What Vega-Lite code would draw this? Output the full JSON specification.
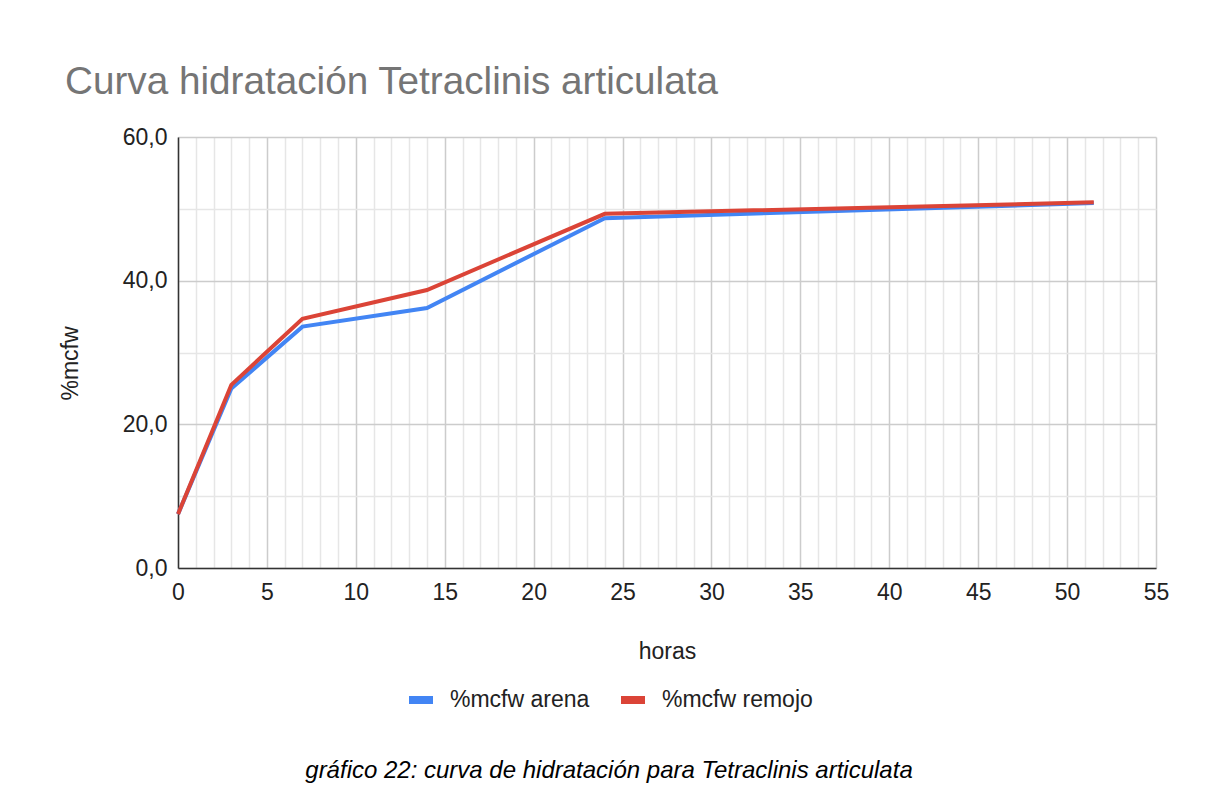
{
  "$schema": "https://vega.github.io/schema/vega-lite/v6.json",
  "autosize": {"type": "none"},
  "width": 978,
  "height": 431,
  "padding": {"left": 178, "top": 137, "right": 51, "bottom": 228},
  "background": "white",
  "title": {
    "text": "Curva hidratación Tetraclinis articulata",
    "anchor": "start",
    "frame": "group",
    "dx": -113,
    "offset": -7,
    "baseline": "alphabetic",
    "font": "Liberation Sans",
    "fontSize": 38.7,
    "fontWeight": "normal",
    "color": "#757575"
  },
  "config": {
    "view": {"stroke": null},
    "font": "Liberation Sans"
  },
  "data": {
    "values": [
      {"horas": 0, "mcfw": 7.5, "serie": "%mcfw arena"},
      {"horas": 3, "mcfw": 25.0, "serie": "%mcfw arena"},
      {"horas": 7, "mcfw": 33.6, "serie": "%mcfw arena"},
      {"horas": 14, "mcfw": 36.2, "serie": "%mcfw arena"},
      {"horas": 24, "mcfw": 48.7, "serie": "%mcfw arena"},
      {"horas": 51.5, "mcfw": 50.8, "serie": "%mcfw arena"},
      {"horas": 0, "mcfw": 7.5, "serie": "%mcfw remojo"},
      {"horas": 3, "mcfw": 25.5, "serie": "%mcfw remojo"},
      {"horas": 7, "mcfw": 34.7, "serie": "%mcfw remojo"},
      {"horas": 14, "mcfw": 38.7, "serie": "%mcfw remojo"},
      {"horas": 24, "mcfw": 49.3, "serie": "%mcfw remojo"},
      {"horas": 51.5, "mcfw": 50.9, "serie": "%mcfw remojo"}
    ]
  },
  "mark": {"type": "line", "strokeWidth": 4, "strokeJoin": "miter", "strokeCap": "butt"},
  "encoding": {
    "x": {
      "field": "horas",
      "type": "quantitative",
      "scale": {"domain": [0, 55], "nice": false, "zero": true},
      "axis": {
        "title": "horas",
        "values": [0,1,2,3,4,5,6,7,8,9,10,11,12,13,14,15,16,17,18,19,20,21,22,23,24,25,26,27,28,29,30,31,32,33,34,35,36,37,38,39,40,41,42,43,44,45,46,47,48,49,50,51,52,53,54,55],
        "labelExpr": "datum.value % 5 === 0 ? format(datum.value, 'd') : ''",
        "ticks": false,
        "labelPadding": 13,
        "labelFontSize": 23,
        "labelColor": "#222222",
        "labelFont": "Liberation Sans",
        "labelOverlap": false,
        "labelFlush": false,
        "domainColor": "#333333",
        "domainWidth": 1.5,
        "grid": true,
        "gridColor": {"condition": {"test": "datum.value % 5 === 0", "value": "#cccccc"}, "value": "#e6e6e6"},
        "gridWidth": 1.5,
        "titleFontSize": 23,
        "titleFontWeight": "normal",
        "titleColor": "#222222",
        "titleFont": "Liberation Sans",
        "titlePadding": 36
      }
    },
    "y": {
      "field": "mcfw",
      "type": "quantitative",
      "scale": {"domain": [0, 60], "nice": false},
      "axis": {
        "title": "%mcfw",
        "titleY": 226,
        "values": [0, 10, 20, 30, 40, 50, 60],
        "labelExpr": "datum.value % 20 === 0 ? replace(format(datum.value, '.1f'), '.', ',') : ''",
        "ticks": false,
        "labelPadding": 11,
        "labelFontSize": 23,
        "labelColor": "#222222",
        "labelFont": "Liberation Sans",
        "labelOverlap": false,
        "domainColor": "#333333",
        "domainWidth": 1.5,
        "grid": true,
        "gridColor": {"condition": {"test": "datum.value % 20 === 0", "value": "#cccccc"}, "value": "#e6e6e6"},
        "gridWidth": 1.5,
        "titleFontSize": 23,
        "titleFontWeight": "normal",
        "titleColor": "#222222",
        "titleFont": "Liberation Sans",
        "titlePadding": 40
      }
    },
    "color": {
      "field": "serie",
      "type": "nominal",
      "scale": {"domain": ["%mcfw arena", "%mcfw remojo"], "range": ["#4285F4", "#DB4437"]},
      "legend": {
        "title": "gráfico 22: curva de hidratación para Tetraclinis articulata",
        "titleOrient": "bottom",
        "titleAnchor": "middle",
        "titleFontStyle": "italic",
        "titleFontWeight": "normal",
        "titleFontSize": 24,
        "titleColor": "#000000",
        "titleFont": "Liberation Sans",
        "titleLimit": 1200,
        "titlePadding": 43,
        "orient": "none",
        "legendX": 127,
        "legendY": 547,
        "direction": "horizontal",
        "padding": 0,
        "symbolType": "stroke",
        "symbolSize": 576,
        "symbolStrokeWidth": 8,
        "labelFontSize": 23,
        "labelColor": "#222222",
        "labelFont": "Liberation Sans",
        "labelOffset": 13,
        "labelLimit": 400,
        "columnPadding": 15
      }
    }
  }
}
